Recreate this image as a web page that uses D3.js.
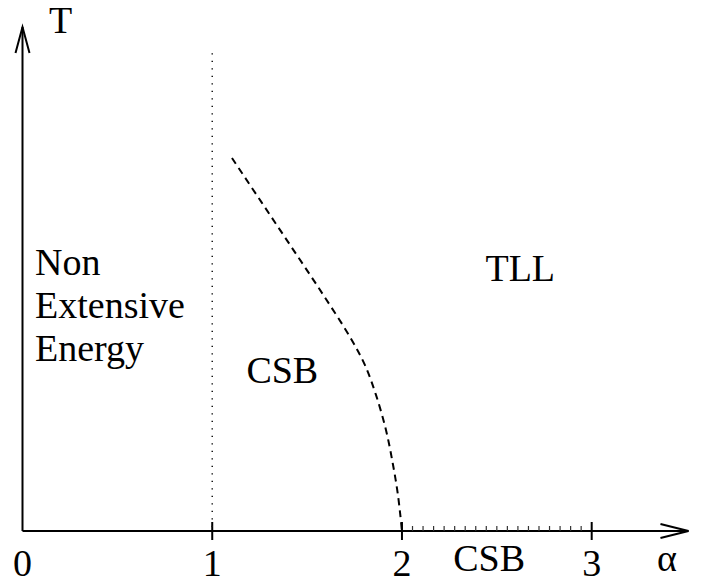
<!DOCTYPE html>
<html>
<head>
<meta charset="utf-8">
<script src="https://cdn.jsdelivr.net/npm/d3@7"></script>
<style>
  body { margin: 0; background: #fff; }
</style>
</head>
<body>
<svg id="chart"></svg>
<script>
// data
const tickValues = [0, 1, 2, 3];
const tickLabels = ["0", "1", "2", "3"];

// dashed transition line, alpha vs T (T in arbitrary units 0..100)
const boundaryAlpha = [1.104, 1.262, 1.420, 1.579, 1.726, 1.805, 1.863, 1.916, 1.953, 1.979, 2.0];
const boundaryT     = [74.0, 65.1, 56.2, 47.2, 38.5, 32.9, 27.0, 20.0, 13.1, 7.1, 0];

// dotted line at alpha = 1 and the CSB stretch on the axis
const dottedAlpha = 1;
const dottedTop = 94.8;
const csbLineRange = [2, 3];
const csbTicks = 18;

const regionNames = ["Non", "Extensive", "Energy"];
const regionLabels = [
  {text: "CSB", a: 1.18, t: 29.4},
  {text: "TLL", a: 2.44, t: 49.6},
  {text: "CSB", a: 2.27, t: -7.9}
];

const font = "'Times New Roman', Times, 'Liberation Serif', 'DejaVu Serif', serif";

const [w, h] = [725, 584];
const svg = d3.select("#chart").attr("width", w).attr("height", h)
  .attr("font-family", font);

const x = d3.scaleLinear().domain([0, 3]).range([22.5, 591.7]);
const y = d3.scaleLinear().domain([0, 100]).range([531, 27]);

const axisEnd = 3.51;

//axes
svg.append("line")
  .attr("x1", x(0)).attr("y1", y(0)).attr("x2", x(axisEnd)).attr("y2", y(0))
  .attr("stroke", "#000").attr("stroke-width", 2);
svg.append("line")
  .attr("x1", x(0)).attr("y1", y(0)).attr("x2", x(0)).attr("y2", y(100))
  .attr("stroke", "#000").attr("stroke-width", 2);

//open arrow heads
const arrow = svg.append("g").attr("fill", "none").attr("stroke", "#000").attr("stroke-width", 2);
arrow.append("path")
  .attr("d", `M${x(0) - 7},${y(100) + 26} L${x(0)},${y(100)} L${x(0) + 7},${y(100) + 26}`);
arrow.append("path")
  .attr("d", `M${x(axisEnd) - 28},${y(0) - 7} L${x(axisEnd)},${y(0)} L${x(axisEnd) - 28},${y(0) + 7}`);

//major ticks
svg.selectAll(".major").data(tickValues.slice(1)).enter().append("line")
  .attr("class", "major")
  .attr("x1", d => x(d)).attr("x2", d => x(d))
  .attr("y1", y(0) - 9).attr("y2", y(0) + 9)
  .attr("stroke", "#000").attr("stroke-width", 2);

//tick labels
svg.selectAll(".tl").data(tickValues).enter().append("text")
  .attr("class", "tl")
  .attr("x", d => x(d)).attr("y", 576)
  .attr("text-anchor", "middle").attr("font-size", 38)
  .text((d, i) => tickLabels[i]);

//minor ticks for CSB on the axis
const minor = d3.range(1, csbTicks).map(i => csbLineRange[0] + i * (csbLineRange[1] - csbLineRange[0]) / csbTicks);
svg.selectAll(".minor").data(minor).enter().append("line")
  .attr("class", "minor")
  .attr("x1", d => x(d)).attr("x2", d => x(d))
  .attr("y1", y(0) - 5).attr("y2", y(0))
  .attr("stroke", "#333").attr("stroke-width", 1.2);

//dotted vertical line
svg.append("line")
  .attr("x1", x(dottedAlpha)).attr("x2", x(dottedAlpha))
  .attr("y1", y(dottedTop)).attr("y2", y(0))
  .attr("stroke", "#111").attr("stroke-width", 1.5)
  .attr("stroke-dasharray", "1.3,6.2");

//dashed boundary
const line = d3.line().x(d => x(d[0])).y(d => y(d[1])).curve(d3.curveCatmullRom);
svg.append("path")
  .datum(boundaryAlpha.map((a, i) => [a, boundaryT[i]]))
  .attr("d", line)
  .attr("fill", "none").attr("stroke", "#000").attr("stroke-width", 2)
  .attr("stroke-dasharray", "7,5");

//texts
svg.append("text").attr("x", 49).attr("y", 33).attr("font-size", 38).text("T");
svg.append("text").attr("x", 657).attr("y", 571).attr("font-size", 38).text("α");

svg.selectAll(".reg").data(regionNames).enter().append("text")
  .attr("class", "reg")
  .attr("x", 35).attr("y", (d, i) => 275 + i * 43)
  .attr("font-size", 38).text(d => d);

svg.selectAll(".lbl").data(regionLabels).enter().append("text")
  .attr("class", "lbl")
  .attr("x", d => x(d.a)).attr("y", d => y(d.t))
  .attr("font-size", 38).text(d => d.text);
</script>
</body>
</html>
